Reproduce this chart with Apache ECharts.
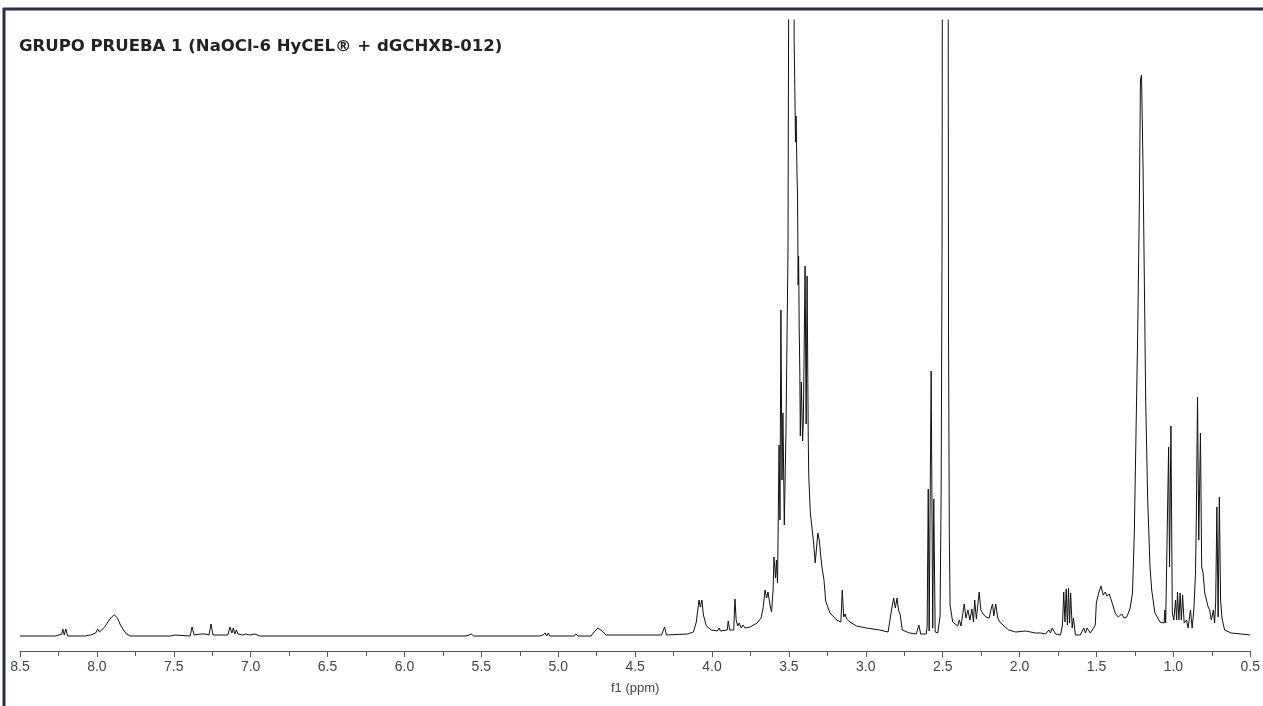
<!DOCTYPE html>
<html>
<head>
<meta charset="utf-8">
<script src="https://cdn.jsdelivr.net/npm/echarts@6/dist/echarts.min.js"></script>
<style>
html,body{margin:0;padding:0;background:#fff;}
#chart{width:1263px;height:706px;}
</style>
</head>
<body>
<div id="chart"></div>
<script>
// [ppm, intensity]
var aromaticRegion = [[8.500,0],[8.267,0],[8.228,2],[8.222,7],[8.212,1],[8.202,7],[8.190,0],[8.105,0],[8.092,1],[8.080,0],[8.041,1],[8.008,3],[7.995,7],[7.983,4],[7.970,5],[7.950,9],[7.924,15],[7.905,19],[7.886,21],[7.866,18],[7.847,11],[7.827,6],[7.821,5],[7.808,2],[7.782,0],[7.523,0],[7.491,1],[7.478,0],[7.394,0],[7.381,9],[7.368,1],[7.329,2],[7.297,2],[7.271,1],[7.258,12],[7.245,1],[7.200,1],[7.148,1],[7.135,9],[7.122,3],[7.113,8],[7.103,2],[7.093,6],[7.083,2],[7.070,3],[7.051,1],[7.032,2],[7.006,1],[6.973,2],[6.941,0]];
var midRegion = [[6.900,0],[5.600,0],[5.580,1],[5.565,2],[5.550,0],[5.120,0],[5.100,1],[5.085,3],[5.075,0],[5.065,3],[5.055,0],[4.900,0],[4.885,2],[4.870,0],[4.787,0],[4.761,5],[4.742,8],[4.722,6],[4.690,1],[4.483,1],[4.328,1],[4.309,9],[4.296,1]];
var mainRegion = [[4.160,2],[4.121,4],[4.102,14],[4.085,36],[4.076,29],[4.066,36],[4.056,21],[4.037,10],[4.005,6],[3.966,5],[3.953,8],[3.946,5],[3.901,6],[3.895,15],[3.885,6],[3.859,6],[3.851,37],[3.843,16],[3.833,10],[3.823,13],[3.810,8],[3.798,11],[3.785,8],[3.752,9],[3.707,13],[3.681,18],[3.668,28],[3.655,46],[3.645,38],[3.636,44],[3.623,31],[3.613,24],[3.603,46],[3.597,79],[3.587,58],[3.581,76],[3.574,53],[3.564,191],[3.558,116],[3.552,326],[3.545,156],[3.539,223],[3.530,111],[3.519,206],[3.506,386],[3.497,900],[3.490,1400],[3.481,1500],[3.471,1300],[3.466,596],[3.461,541],[3.457,494],[3.453,520],[3.448,465],[3.444,440],[3.440,351],[3.437,380],[3.433,307],[3.429,263],[3.426,200],[3.419,254],[3.411,195],[3.406,216],[3.395,370],[3.388,212],[3.382,360],[3.374,195],[3.371,160],[3.361,124],[3.340,94],[3.329,73],[3.312,103],[3.303,96],[3.287,71],[3.272,56],[3.261,35],[3.233,23],[3.190,16],[3.162,14],[3.153,46],[3.144,19],[3.135,22],[3.125,17],[3.103,14],[3.060,10],[2.996,8],[2.909,6],[2.855,4]];
var dmsoRegion = [[2.834,25],[2.819,38],[2.808,28],[2.797,38],[2.787,26],[2.776,21],[2.763,6],[2.715,3],[2.672,2],[2.655,11],[2.643,2],[2.607,2],[2.601,10],[2.594,147],[2.588,5],[2.582,4],[2.575,265],[2.565,8],[2.558,137],[2.549,4],[2.532,3],[2.517,20],[2.510,149],[2.504,400],[2.497,1500],[2.481,1600],[2.468,1200],[2.462,300],[2.457,100],[2.452,31],[2.435,14],[2.402,10],[2.392,16],[2.381,10],[2.360,32],[2.349,18],[2.336,26],[2.323,16],[2.310,27],[2.300,14],[2.292,36],[2.281,17],[2.263,44],[2.252,26],[2.237,22],[2.219,19],[2.198,18],[2.187,26],[2.176,32],[2.168,20],[2.155,32],[2.142,18],[2.129,14],[2.101,10],[2.071,6],[2.025,4],[1.961,5],[1.896,3]];
var aliphaticRegion = [[1.864,3],[1.831,2],[1.810,6],[1.799,3],[1.788,8],[1.766,2],[1.734,1],[1.721,11],[1.713,44],[1.705,14],[1.697,47],[1.689,11],[1.682,48],[1.675,13],[1.668,43],[1.658,8],[1.650,18],[1.637,1],[1.605,1],[1.583,8],[1.572,3],[1.561,8],[1.540,3],[1.519,8],[1.508,11],[1.501,33],[1.486,43],[1.471,50],[1.456,41],[1.443,44],[1.432,40],[1.417,42],[1.400,34],[1.378,23],[1.359,19],[1.335,22],[1.320,18],[1.303,19],[1.281,28],[1.266,43],[1.254,103],[1.243,203],[1.232,303],[1.221,436],[1.214,556],[1.207,561],[1.197,466],[1.180,236],[1.167,136],[1.152,69],[1.141,46],[1.120,23],[1.087,14],[1.060,13],[1.055,26],[1.050,13],[1.031,189],[1.025,69],[1.016,210],[1.007,23],[0.997,16],[0.986,36],[0.979,16],[0.973,44],[0.964,16],[0.956,43],[0.948,16],[0.940,41],[0.930,13],[0.915,16],[0.904,8],[0.889,26],[0.878,8],[0.867,26],[0.856,63],[0.851,116],[0.843,239],[0.835,96],[0.824,203],[0.816,69],[0.807,63],[0.796,43],[0.785,41],[0.774,29],[0.764,26],[0.753,16],[0.740,26],[0.732,13],[0.725,33],[0.717,129],[0.709,19],[0.701,139],[0.693,36],[0.684,18],[0.667,6],[0.624,3],[0.559,2],[0.500,1]];

var titleText = 'GRUPO PRUEBA 1 (NaOCl-6 HyCEL® + dGCHXB-012)';
var axisName = 'f1 (ppm)';

var spectrum = aromaticRegion.concat(midRegion, mainRegion, dmsoRegion, aliphaticRegion)
  .sort(function(a,b){return b[0]-a[0];});

var chart = echarts.init(document.getElementById('chart'), null, {renderer:'canvas'});
chart.setOption({
  animation:false,
  backgroundColor:'#ffffff',
  title:{
    text:titleText, left:19, top:38, padding:0,
    textStyle:{fontFamily:'DejaVu Sans', fontSize:16.5, fontWeight:'bold', color:'#222'}
  },
  grid:{left:20, right:6, top:20, bottom:55, containLabel:false},
  xAxis:{
    type:'value', inverse:true, min:0.5, max:8.5, interval:0.5,
    name:axisName, nameLocation:'middle', nameGap:31,
    nameTextStyle:{fontFamily:'Liberation Sans', fontSize:13, color:'#444'},
    axisLine:{show:true, onZero:false, lineStyle:{color:'#555', width:1}},
    axisTick:{show:true, length:6, lineStyle:{color:'#555'}},
    minorTick:{show:true, splitNumber:2, length:5, lineStyle:{color:'#555'}},
    splitLine:{show:false},
    axisLabel:{fontFamily:'Liberation Sans', fontSize:14, color:'#444', margin:9,
      formatter:function(v){return v.toFixed(1);}}
  },
  yAxis:{type:'value', min:-15, max:616, show:false, splitLine:{show:false}},
  series:[{
    type:'line', data:spectrum, showSymbol:false, clip:true,
    lineStyle:{color:'#111', width:1}, silent:true
  }],
  graphic:[
    {type:'line', shape:{x1:3, y1:9, x2:1263, y2:9}, style:{stroke:'#2b2d4b', lineWidth:3}},
    {type:'line', shape:{x1:4, y1:8, x2:4, y2:706}, style:{stroke:'#2b2d4b', lineWidth:3}}
  ]
});
</script>
</body>
</html>
